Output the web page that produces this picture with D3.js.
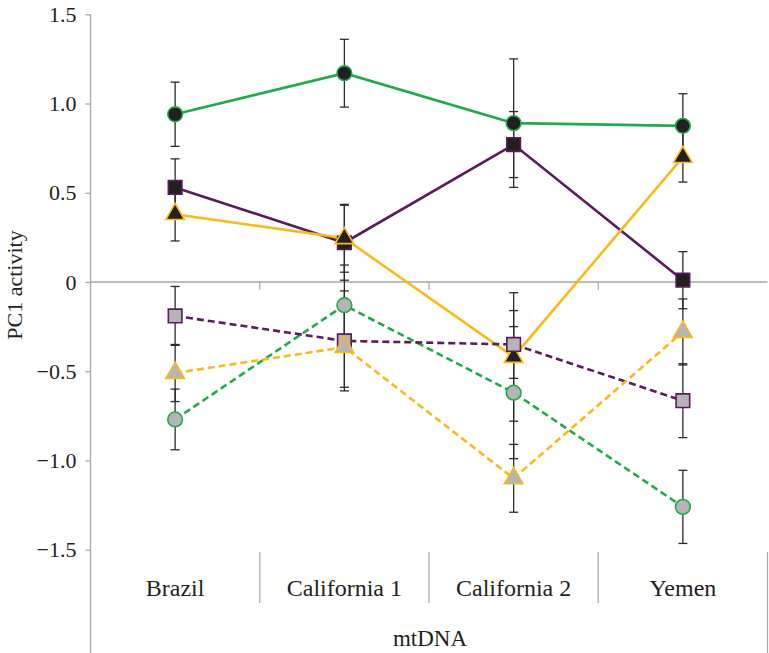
<!DOCTYPE html>
<html><head><meta charset="utf-8">
<script src="https://cdn.jsdelivr.net/npm/d3@7"></script>
<style>body{margin:0;background:#fff}svg{display:block}text{font-family:"Liberation Serif","Times New Roman",serif;fill:#231f20}</style>
</head><body><svg id="c" width="769" height="653"></svg>
<script>
const categories = ["Brazil", "California 1", "California 2", "Yemen"];
const yTicks = [-1.5, -1.0, -0.5, 0, 0.5, 1.0, 1.5];
const greenSolid   = [0.94, 1.17, 0.89, 0.875];
const greenSolidErr = [0.18, 0.19, 0.36, 0.18];
const purpleSolid  = [0.53, 0.22, 0.77, 0.01];
const purpleSolidErr = [0.16, 0.21, 0.185, 0.16];
const yellowSolid  = [0.38, 0.245, -0.42, 0.70];
const yellowSolidErr = [0.15, 0.19, 0.36, 0.14];
const greenDashed  = [-0.77, -0.13, -0.62, -1.26];
const greenDashedErr = [0.17, 0.225, 0.37, 0.205];
const purpleDashed = [-0.19, -0.33, -0.35, -0.665];
const purpleDashedErr = [0.165, 0.28, 0.19, 0.207];
const yellowDashed = [-0.51, -0.365, -1.10, -0.28];
const yellowDashedErr = [0.16, 0.225, 0.19, 0.185];

const GREEN = "#22a94b", PURPLE = "#5a1c5c", YELLOW = "#f7bb1b";
const series = [
  {vals: greenSolid, err: greenSolidErr, color: GREEN, shape: "circle", dashed: false},
  {vals: purpleSolid, err: purpleSolidErr, color: PURPLE, shape: "square", dashed: false},
  {vals: yellowSolid, err: yellowSolidErr, color: YELLOW, shape: "triangle", dashed: false},
  {vals: greenDashed, err: greenDashedErr, color: GREEN, shape: "circle", dashed: true},
  {vals: purpleDashed, err: purpleDashedErr, color: PURPLE, shape: "square", dashed: true},
  {vals: yellowDashed, err: yellowDashedErr, color: YELLOW, shape: "triangle", dashed: true}
];

const FONT = '"Liberation Serif","Times New Roman",serif';
const svg = d3.select("#c");
const left = 90.5, right = 767.5, W = 769, H = 653;
const x = d3.scaleBand().domain(categories).range([left, right]).padding(0);
const cx = c => x(c) + x.bandwidth() / 2;
const y = d3.scaleLinear().domain([-1.5, 1.5]).range([549.7, 14.3]);
const AX = "#a7a7a7";

// y axis
const fmt = d3.format(".1f");
const ax = svg.append("g").attr("transform", `translate(${left},0)`)
  .call(d3.axisLeft(y).tickValues(yTicks).tickSize(5).tickPadding(9)
    .tickFormat(d => d === 0 ? "0" : fmt(d)));
ax.attr("font-family", null).attr("font-size", null);
ax.select(".domain").remove();
ax.selectAll(".tick line").attr("stroke", AX).attr("stroke-width", 1.3);
ax.selectAll(".tick text").style("font-family", FONT).style("font-size", "22px").attr("fill", "#231f20");
svg.append("line").attr("x1", left).attr("x2", left).attr("y1", y(1.5)).attr("y2", H)
  .attr("stroke", AX).attr("stroke-width", 1.3);

// zero line + small ticks
svg.append("line").attr("x1", left).attr("x2", right).attr("y1", y(0)).attr("y2", y(0))
  .attr("stroke", AX).attr("stroke-width", 1.6);
categories.slice(1).forEach(c => {
  svg.append("line").attr("x1", x(c)).attr("x2", x(c)).attr("y1", y(0)).attr("y2", y(0) + 8)
    .attr("stroke", AX).attr("stroke-width", 1.2);
});

// category box
categories.slice(1).forEach(c => {
  svg.append("line").attr("x1", x(c)).attr("x2", x(c)).attr("y1", 552).attr("y2", 603)
    .attr("stroke", AX).attr("stroke-width", 1.2);
});
svg.append("line").attr("x1", right).attr("x2", right).attr("y1", 552).attr("y2", H)
  .attr("stroke", AX).attr("stroke-width", 1.2);
svg.selectAll("text.cat").data(categories).join("text").attr("class", "cat")
  .attr("x", d => cx(d)).attr("y", 596).attr("text-anchor", "middle")
  .style("font-family", FONT).style("font-size", "24px").text(d => d);
svg.append("text").attr("x", (left + right) / 2 + 1).attr("y", 646).attr("text-anchor", "middle")
  .style("font-family", FONT).style("font-size", "23px").text("mtDNA");
svg.append("text").attr("transform", "translate(22,285) rotate(-90)").attr("text-anchor", "middle")
  .style("font-family", FONT).style("font-size", "22px").text("PC1 activity");

// lines
const line = d3.line().x((d, i) => cx(categories[i])).y(d => y(d));
series.forEach(s => {
  svg.append("path").attr("d", line(s.vals)).attr("fill", "none").attr("stroke", s.color)
    .attr("stroke-width", 2.6).attr("stroke-dasharray", s.dashed ? "7,4" : null);
});

// error bars
series.forEach(s => {
  s.vals.forEach((v, i) => {
    const X = cx(categories[i]), t = y(v + s.err[i]), b = y(v - s.err[i]);
    const g = svg.append("g").attr("stroke", "#2b2b2b").attr("stroke-width", 1.3);
    g.append("line").attr("x1", X).attr("x2", X).attr("y1", t).attr("y2", b);
    g.append("line").attr("x1", X - 4.5).attr("x2", X + 4.5).attr("y1", t).attr("y2", t);
    g.append("line").attr("x1", X - 4.5).attr("x2", X + 4.5).attr("y1", b).attr("y2", b);
  });
});

// markers
const symType = {circle: d3.symbolCircle, square: d3.symbolSquare, triangle: d3.symbolTriangle};
const symSize = {circle: 170, square: 185, triangle: 150};
series.forEach(s => {
  s.vals.forEach((v, i) => {
    svg.append("path").attr("d", d3.symbol().type(symType[s.shape]).size(symSize[s.shape])())
      .attr("transform", `translate(${cx(categories[i])},${y(v)})`)
      .attr("fill", s.dashed ? "#b5b4b6" : "#231f20")
      .attr("stroke", s.color).attr("stroke-width", 1.6);
  });
});
</script></body></html>
